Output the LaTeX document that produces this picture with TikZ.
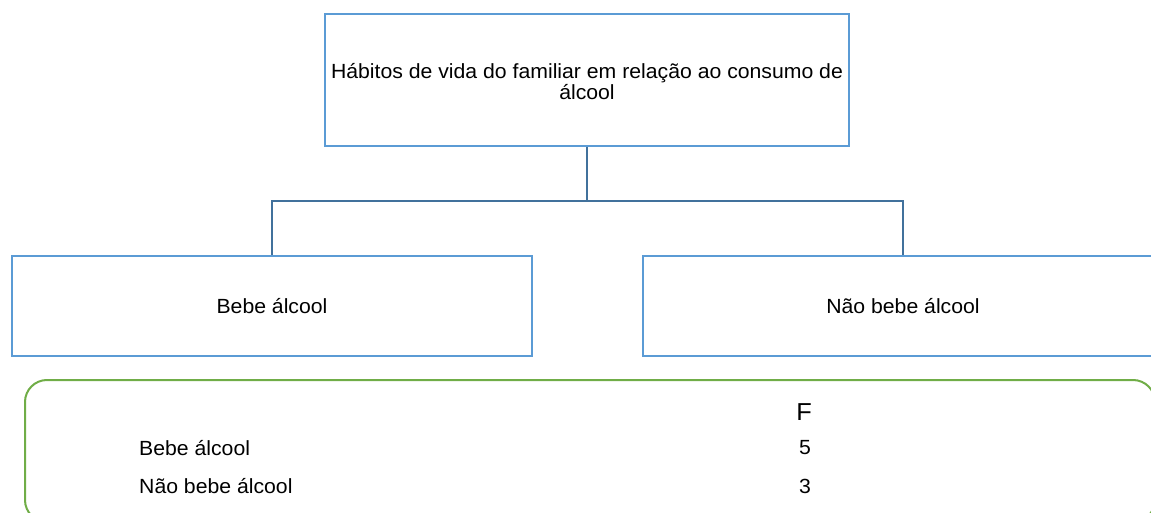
\documentclass[tikz,border=0pt]{standalone}
\usepackage{fontspec}
\setmainfont{Liberation Sans}[FakeStretch=1.035]
\usepackage{tikz}
\usetikzlibrary{positioning}

\definecolor{boxblue}{HTML}{5B9BD5}
\definecolor{linkblue}{HTML}{41719C}
\definecolor{framegreen}{HTML}{70AD47}

\begin{document}
\begin{tikzpicture}[x=1pt, y=-1pt, box/.style={
  % The shape:
  rectangle,
  % The size:
  minimum width=520pt, minimum height=100pt,
  % The border
  line width=2pt, draw=boxblue,
      inner sep=0pt,
      align=center,
      font=\fontsize{20.5}{21}\selectfont},
  link/.style={line width=2pt, draw=linkblue},
  cell/.style={inner sep=0pt, font=\fontsize{20.5}{21}\selectfont}]
  \clip (0,0) rectangle (1151,513);
  \useasboundingbox (0,0) rectangle (1151,513);

  \node [box, minimum width=524pt, minimum height=132pt] (title) at (587,80) {};
  \node [align=center, inner sep=0pt, font=\fontsize{20.5}{21}\selectfont] (titletext) at (587,82)
    {Hábitos de vida do familiar em relação ao consumo de\\ álcool};
  \node [box] (bebe) at (272,306) {Bebe álcool};
  \node [box] (naobebe) at (903,306) {Não bebe álcool};

  \coordinate (split) at (587,201.5);
  \draw [link] (title.south) -- (split);
  \draw [link] (split) -| (bebe.north);
  \draw [link] (split) -| (naobebe.north);

  % frequency table
  \draw [framegreen, line width=2pt, rounded corners=22pt] (25,380) rectangle (1155,522);
  \node [cell, font=\fontsize{24.5}{25}\selectfont] (tabF) at (804,412) {F};
  \node [cell, anchor=west] (tabBebe) at (139,448) {Bebe álcool};
  \node [cell, anchor=west] (tabNao) at (139,486) {Não bebe álcool};
  \node [cell] (tabBebeF) at (805,448) {5};
  \node [cell] (tabNaoF) at (805,486) {3};

  \end{tikzpicture}
\end{document}
